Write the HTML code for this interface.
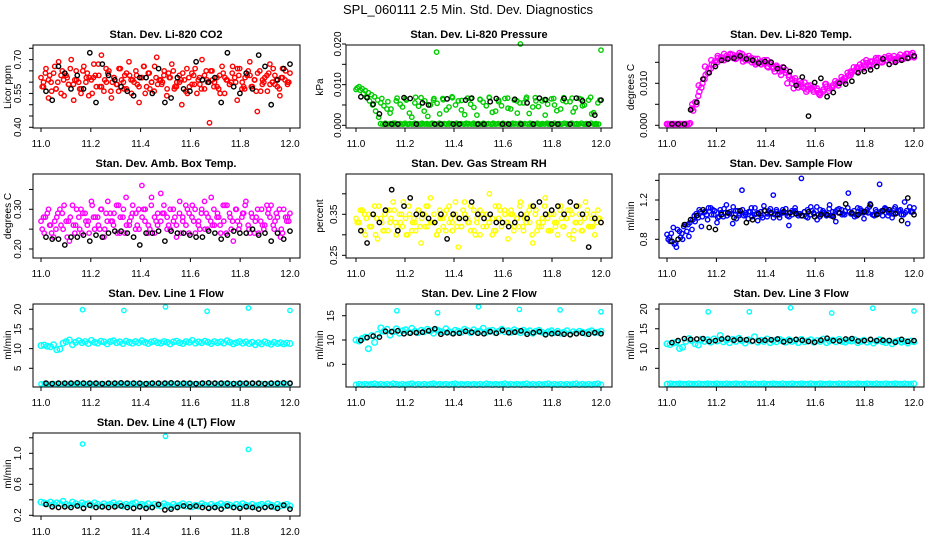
<!DOCTYPE html>
<html><head><meta charset="utf-8"><style>
html,body{margin:0;padding:0;background:#fff;}
svg{display:block;font-family:"Liberation Sans",sans-serif;}
.pt{font-weight:bold;font-size:11px;}
.yl{font-size:10px;}
</style></head><body>
<svg id="chart" width="936" height="540" viewBox="0 0 936 540">
<rect x="0" y="0" width="936" height="540" fill="#fff"/>
<text x="468" y="14" text-anchor="middle" font-size="13">SPL_060111  2.5 Min. Std. Dev. Diagnostics</text>
<text class="pt" x="166" y="38" text-anchor="middle">Stan. Dev. Li-820 CO2</text>
<text class="pt" x="479" y="38" text-anchor="middle">Stan. Dev. Li-820 Pressure</text>
<text class="pt" x="791" y="38" text-anchor="middle">Stan. Dev. Li-820 Temp.</text>
<text class="pt" x="166" y="167" text-anchor="middle">Stan. Dev. Amb. Box Temp.</text>
<text class="pt" x="479" y="167" text-anchor="middle">Stan. Dev. Gas Stream RH</text>
<text class="pt" x="791" y="167" text-anchor="middle">Stan. Dev. Sample Flow</text>
<text class="pt" x="166" y="297" text-anchor="middle">Stan. Dev. Line 1 Flow</text>
<text class="pt" x="479" y="297" text-anchor="middle">Stan. Dev. Line 2 Flow</text>
<text class="pt" x="791" y="297" text-anchor="middle">Stan. Dev. Line 3 Flow</text>
<text class="pt" x="166" y="426" text-anchor="middle">Stan. Dev. Line 4 (LT) Flow</text>
<text class="yl" transform="translate(11,87) rotate(-90)" text-anchor="middle">Licor ppm</text>
<text class="yl" transform="translate(323,87) rotate(-90)" text-anchor="middle">kPa</text>
<text class="yl" transform="translate(634,87) rotate(-90)" text-anchor="middle">degrees C</text>
<text class="yl" transform="translate(11,216) rotate(-90)" text-anchor="middle">degrees C</text>
<text class="yl" transform="translate(323,216) rotate(-90)" text-anchor="middle">percent</text>
<text class="yl" transform="translate(634,216) rotate(-90)" text-anchor="middle">ml/min</text>
<text class="yl" transform="translate(11,345) rotate(-90)" text-anchor="middle">ml/min</text>
<text class="yl" transform="translate(323,345) rotate(-90)" text-anchor="middle">ml/min</text>
<text class="yl" transform="translate(634,345) rotate(-90)" text-anchor="middle">ml/min</text>
<text class="yl" transform="translate(11,474) rotate(-90)" text-anchor="middle">ml/min</text>
</svg>
<script>
// ---- data ----
const xTicks = [11.0, 11.2, 11.4, 11.6, 11.8, 12.0];
const xTickLabels = ["11.0", "11.2", "11.4", "11.6", "11.8", "12.0"];
const outlierX = [11.167, 11.333, 11.5, 11.667, 11.833, 12.0];

const co2Ticks = [0.40,0.45,0.50,0.55,0.60,0.65,0.70,0.75];
const co2TickLabels = ["0.40","","","0.55","","","0.70",""];
const co2Red = [0.62,0.58,0.66,0.53,0.60,0.64,0.57,0.69,0.55,0.61,0.63,0.59,0.70,0.52,0.65,0.60,0.57,0.67,0.62,0.54,0.61,0.68,0.58,0.63,0.72,0.56,0.60,0.65,0.53,0.62,0.59,0.66,0.61,0.57,0.64,0.69,0.55,0.60,0.63,0.51,0.62,0.67,0.58,0.64,0.60,0.56,0.71,0.61,0.59,0.65,0.54,0.62,0.68,0.57,0.60,0.63,0.50,0.61,0.66,0.58,0.64,0.59,0.55,0.62,0.70,0.57,0.61,0.42,0.65,0.60,0.58,0.63,0.67,0.55,0.61,0.59,0.64,0.62,0.52,0.66,0.60,0.57,0.63,0.69,0.58,0.61,0.47,0.65,0.59,0.62,0.56,0.68,0.60,0.63,0.58,0.54,0.66,0.61,0.59,0.64];
const co2Red2 = [0.60,0.63,0.57,0.65,0.59,0.61,0.55,0.64,0.62,0.58,0.66,0.60,0.56,0.63,0.61,0.59,0.67,0.57,0.62,0.60,0.64,0.58,0.61,0.55,0.63,0.59,0.65,0.61,0.57,0.62,0.60,0.66,0.58,0.63,0.56,0.61,0.64,0.59,0.62,0.60];
const co2Red3 = [0.58,0.64,0.61,0.56,0.67,0.60,0.63,0.54,0.62,0.66,0.59,0.61,0.57,0.65,0.60,0.62,0.55,0.63,0.68,0.58,0.61,0.64,0.56,0.62,0.59,0.66,0.60,0.57,0.63,0.61,0.65,0.58,0.62,0.55,0.64,0.60,0.67,0.59,0.61,0.63,0.57,0.62,0.65,0.58,0.60,0.64,0.56,0.62,0.59,0.66,0.61,0.57,0.63,0.60,0.65,0.58,0.62,0.55,0.64,0.61,0.59,0.67,0.60,0.63,0.57,0.62,0.65,0.58,0.61,0.64,0.56,0.60,0.63,0.59,0.66,0.61,0.57,0.62,0.65,0.60];
const co2Black = [0.56,0.52,0.67,0.64,0.57,0.63,0.57,0.73,0.51,0.68,0.63,0.61,0.58,0.56,0.54,0.62,0.62,0.55,0.66,0.51,0.53,0.62,0.57,0.56,0.69,0.61,0.60,0.62,0.51,0.73,0.58,0.55,0.64,0.57,0.72,0.67,0.50,0.61,0.66,0.68];

const presTicks = [0,0.005,0.010,0.015,0.020];
const presTickLabels = ["0.000","","0.010","","0.020"];
const presGreen = [0.0088,0.0095,0.0090,0.0085,0.0080,0.0075,0.0070,0.0062,0.0055,0.0048,0.0040,0.0030,0.0005,0.0060,0.0003,0.0045,0.0065,0.0003,0.0020,0.0055,0.0003,0.0068,0.0035,0.0003,0.0050,0.0062,0.0180,0.0028,0.0066,0.0003,0.0045,0.0070,0.0003,0.0060,0.0038,0.0003,0.0067,0.0052,0.0003,0.0025,0.0063,0.0003,0.0048,0.0068,0.0003,0.0035,0.0058,0.0003,0.0066,0.0042,0.0003,0.0062,0.0030,0.0200,0.0055,0.0069,0.0003,0.0045,0.0060,0.0003,0.0060,0.0025,0.0003,0.0065,0.0050,0.0003,0.0040,0.0068,0.0003,0.0058,0.0033,0.0003,0.0066,0.0048,0.0003,0.0062,0.0028,0.0003,0.0055,0.0185];
const presGreen3 = [0.0092,0.0086,0.0078,0.0070,0.0060,0.0050,0.0035,0.0020,0.0066,0.0003,0.0058,0.0040,0.0003,0.0067,0.0052,0.0003,0.0062,0.0030,0.0003,0.0069,0.0047,0.0003,0.0060,0.0022,0.0003,0.0066,0.0054,0.0003,0.0063,0.0038,0.0003,0.0068,0.0050,0.0003,0.0061,0.0026,0.0003,0.0066,0.0044,0.0003,0.0064,0.0057,0.0003,0.0069,0.0032,0.0003,0.0062,0.0048,0.0003,0.0067,0.0040,0.0003,0.0060,0.0055,0.0003,0.0065,0.0029,0.0003,0.0068,0.0046,0.0003,0.0063,0.0052,0.0003,0.0066,0.0036,0.0003,0.0061,0.0058,0.0003,0.0067,0.0043,0.0003,0.0064,0.0050,0.0003,0.0069,0.0031,0.0003,0.0062];
const presGreenFloor = [0.0004,0.0003,0.0005,0.0003,0.0004,0.0003,0.0005,0.0003,0.0004,0.0003,0.0005,0.0003,0.0004,0.0003,0.0005,0.0004,0.0003,0.0005,0.0003,0.0004,0.0003,0.0005,0.0004,0.0003,0.0005,0.0003,0.0004,0.0003,0.0005,0.0004,0.0003,0.0005,0.0003,0.0004,0.0003,0.0005,0.0004,0.0003,0.0005,0.0003,0.0004,0.0003,0.0005,0.0003,0.0004,0.0003,0.0005,0.0003,0.0004,0.0003,0.0005,0.0003,0.0004,0.0003,0.0005,0.0004,0.0003,0.0005,0.0003,0.0004,0.0003,0.0005,0.0004,0.0003,0.0005,0.0003,0.0004,0.0003,0.0005,0.0004,0.0003,0.0005,0.0003,0.0004,0.0003,0.0005,0.0004,0.0003,0.0005,0.0003,0.0004,0.0003,0.0005,0.0003,0.0004,0.0003,0.0005,0.0003,0.0004,0.0003];
const presBlack = [0.0070,0.0068,0.0052,0.0028,0.0003,0.0003,0.0003,0.0068,0.0066,0.0003,0.0055,0.0050,0.0003,0.0003,0.0065,0.0003,0.0003,0.0062,0.0067,0.0003,0.0003,0.0058,0.0066,0.0003,0.0003,0.0064,0.0003,0.0055,0.0003,0.0067,0.0063,0.0003,0.0003,0.0066,0.0003,0.0067,0.0060,0.0003,0.0025,0.0062];

const tempTicks = [0,0.005,0.010,0.015];
const tempTickLabels = ["0.000","","0.010",""];
const tempMagenta = [0.0003,0.0003,0.0003,0.0003,0.0003,0.0003,0.0003,0.0003,0.0040,0.0055,0.0070,0.0090,0.0110,0.0125,0.0135,0.0145,0.0150,0.0155,0.0160,0.0165,0.0162,0.0168,0.0158,0.0166,0.0170,0.0163,0.0155,0.0160,0.0150,0.0158,0.0152,0.0148,0.0155,0.0145,0.0140,0.0142,0.0135,0.0130,0.0132,0.0120,0.0110,0.0105,0.0098,0.0092,0.0102,0.0095,0.0088,0.0092,0.0082,0.0078,0.0085,0.0092,0.0088,0.0095,0.0098,0.0102,0.0108,0.0112,0.0118,0.0125,0.0130,0.0135,0.0138,0.0142,0.0148,0.0152,0.0145,0.0155,0.0150,0.0158,0.0155,0.0160,0.0152,0.0158,0.0162,0.0158,0.0165,0.0160,0.0168,0.0165];
const tempMagenta2 = [0.0003,0.0003,0.0003,0.0003,0.0050,0.0095,0.0140,0.0155,0.0165,0.0155,0.0168,0.0160,0.0152,0.0158,0.0145,0.0150,0.0138,0.0128,0.0120,0.0100,0.0088,0.0105,0.0080,0.0085,0.0075,0.0098,0.0090,0.0102,0.0112,0.0128,0.0138,0.0150,0.0140,0.0160,0.0150,0.0165,0.0155,0.0160,0.0170,0.0162];
const tempMagenta3 = [0.0003,0.0003,0.0003,0.0003,0.0003,0.0003,0.0003,0.0005,0.0035,0.0050,0.0080,0.0100,0.0120,0.0135,0.0145,0.0152,0.0160,0.0162,0.0170,0.0158,0.0170,0.0160,0.0165,0.0172,0.0160,0.0155,0.0165,0.0150,0.0158,0.0148,0.0145,0.0155,0.0140,0.0150,0.0135,0.0138,0.0128,0.0138,0.0125,0.0115,0.0100,0.0112,0.0090,0.0100,0.0088,0.0085,0.0095,0.0080,0.0088,0.0072,0.0080,0.0098,0.0082,0.0090,0.0105,0.0095,0.0115,0.0105,0.0125,0.0120,0.0138,0.0128,0.0145,0.0135,0.0155,0.0145,0.0152,0.0148,0.0160,0.0150,0.0162,0.0155,0.0160,0.0165,0.0155,0.0168,0.0158,0.0170,0.0162,0.0172];
const tempBlack = [0.0003,0.0003,0.0003,0.0037,0.0055,0.0110,0.0125,0.0140,0.0155,0.0158,0.0160,0.0165,0.0158,0.0155,0.0148,0.0152,0.0150,0.0135,0.0138,0.0128,0.0095,0.0115,0.0022,0.0102,0.0112,0.0068,0.0078,0.0100,0.0098,0.0105,0.0125,0.0128,0.0132,0.0140,0.0158,0.0145,0.0150,0.0155,0.0160,0.0165];

const ambTicks = [0.20,0.25,0.30,0.35];
const ambTickLabels = ["0.20","","0.30",""];
const ambMagenta = [0.27,0.24,0.29,0.26,0.23,0.28,0.30,0.25,0.27,0.22,0.31,0.26,0.28,0.24,0.29,0.27,0.32,0.25,0.28,0.30,0.23,0.27,0.29,0.26,0.31,0.24,0.28,0.33,0.26,0.29,0.25,0.30,0.36,0.27,0.24,0.31,0.28,0.26,0.34,0.29,0.25,0.30,0.27,0.23,0.32,0.28,0.26,0.29,0.31,0.24,0.27,0.30,0.25,0.28,0.33,0.26,0.29,0.24,0.27,0.31,0.28,0.22,0.30,0.26,0.29,0.32,0.25,0.28,0.27,0.24,0.30,0.26,0.29,0.31,0.25,0.28,0.23,0.30,0.27,0.29];
const ambMagenta2 = [0.28,0.26,0.25,0.29,0.27,0.24,0.30,0.26,0.28,0.25,0.29,0.27,0.31,0.24,0.28,0.26,0.30,0.25,0.27,0.29,0.26,0.28,0.24,0.30,0.27,0.25,0.29,0.26,0.28,0.31,0.25,0.27,0.29,0.24,0.28,0.26,0.30,0.27,0.25,0.28];
const ambMagenta3 = [0.25,0.28,0.30,0.24,0.27,0.29,0.26,0.31,0.23,0.28,0.26,0.30,0.25,0.29,0.27,0.24,0.31,0.28,0.26,0.30,0.25,0.32,0.27,0.29,0.24,0.28,0.30,0.26,0.27,0.31,0.29,0.25,0.28,0.30,0.26,0.33,0.24,0.29,0.27,0.31,0.28,0.25,0.30,0.26,0.29,0.27,0.31,0.24,0.28,0.30,0.26,0.29,0.32,0.25,0.27,0.30,0.28,0.26,0.31,0.24,0.29,0.27,0.30,0.25,0.28,0.31,0.26,0.29,0.24,0.30,0.27,0.25,0.31,0.28,0.26,0.29,0.30,0.24,0.28,0.27];
const ambBlack = [0.23,0.225,0.225,0.21,0.23,0.23,0.235,0.22,0.235,0.23,0.24,0.245,0.245,0.24,0.23,0.21,0.24,0.24,0.245,0.22,0.245,0.24,0.24,0.235,0.23,0.23,0.245,0.24,0.225,0.235,0.245,0.24,0.24,0.25,0.235,0.24,0.22,0.24,0.225,0.245];

const rhTicks = [0.25,0.30,0.35,0.40];
const rhTickLabels = ["0.25","","0.35",""];
const rhYellow = [0.34,0.33,0.36,0.30,0.35,0.32,0.37,0.29,0.34,0.31,0.36,0.33,0.38,0.30,0.35,0.32,0.34,0.37,0.31,0.33,0.36,0.28,0.35,0.32,0.39,0.33,0.30,0.36,0.34,0.31,0.37,0.33,0.35,0.27,0.32,0.38,0.34,0.31,0.36,0.33,0.30,0.35,0.32,0.40,0.34,0.31,0.37,0.33,0.35,0.29,0.36,0.32,0.34,0.38,0.31,0.35,0.33,0.28,0.36,0.32,0.34,0.39,0.31,0.35,0.33,0.30,0.37,0.32,0.34,0.36,0.29,0.33,0.35,0.31,0.38,0.32,0.34,0.30,0.36,0.33];
const rhYellow2 = [0.33,0.35,0.32,0.34,0.31,0.36,0.33,0.35,0.30,0.34,0.32,0.37,0.33,0.31,0.35,0.34,0.32,0.36,0.33,0.30,0.35,0.34,0.31,0.36,0.33,0.35,0.32,0.34,0.37,0.31,0.33,0.35,0.32,0.34,0.36,0.31,0.33,0.35,0.32,0.34];
const rhYellow3 = [0.33,0.36,0.31,0.34,0.32,0.35,0.30,0.37,0.33,0.35,0.31,0.34,0.36,0.32,0.33,0.38,0.30,0.35,0.33,0.31,0.36,0.34,0.32,0.37,0.33,0.35,0.30,0.34,0.32,0.36,0.33,0.31,0.38,0.34,0.32,0.35,0.33,0.37,0.31,0.34,0.36,0.32,0.35,0.33,0.30,0.37,0.34,0.32,0.36,0.33,0.35,0.31,0.34,0.37,0.32,0.33,0.36,0.30,0.35,0.33,0.32,0.37,0.34,0.31,0.35,0.33,0.36,0.32,0.34,0.30,0.35,0.33,0.37,0.31,0.34,0.36,0.32,0.35,0.33,0.34];
const rhBlack = [0.31,0.28,0.35,0.33,0.36,0.41,0.31,0.37,0.39,0.35,0.35,0.34,0.33,0.35,0.29,0.35,0.34,0.34,0.38,0.35,0.34,0.35,0.33,0.33,0.32,0.33,0.35,0.34,0.37,0.38,0.35,0.36,0.37,0.35,0.38,0.37,0.35,0.27,0.34,0.33];

const sfTicks = [0.8,1.0,1.2,1.4];
const sfTickLabels = ["0.8","","1.2",""];
const sfBlue = [0.85,0.78,0.92,0.72,0.88,0.80,0.95,0.83,0.90,0.98,1.02,0.93,1.08,1.00,1.12,1.05,0.97,1.10,1.03,1.15,1.06,0.96,1.09,1.04,1.30,1.07,1.01,1.12,1.05,0.99,1.08,1.14,1.03,1.06,1.25,1.10,1.02,1.07,1.11,0.94,1.05,1.09,1.04,1.42,1.08,1.02,1.13,1.06,1.00,1.10,1.07,1.04,1.15,1.08,0.98,1.11,1.05,1.09,1.27,1.06,1.03,1.12,1.07,1.01,1.10,1.16,1.05,1.08,1.36,1.04,1.11,1.07,1.02,1.13,1.09,1.05,1.18,0.96,1.08,1.12];
const sfBlue2 = [0.82,0.76,0.86,0.95,1.04,1.08,1.05,1.10,1.03,1.07,1.06,1.09,1.04,1.08,1.06,1.02,1.09,1.05,1.07,1.04,1.08,1.06,1.03,1.09,1.05,1.07,1.04,1.10,1.06,1.08,1.05,1.09,1.07,1.04,1.08,1.10,1.06,1.09,1.07,1.08];
const sfBlue3 = [0.80,0.86,0.75,0.90,0.82,0.93,0.88,0.97,1.00,1.06,1.10,1.03,1.08,1.12,1.05,1.09,1.02,1.07,1.11,1.04,1.08,1.13,1.01,1.06,1.10,1.05,1.08,1.03,1.12,1.07,1.04,1.09,1.06,1.11,1.02,1.08,1.05,1.10,1.07,1.03,1.09,1.12,1.06,1.04,1.08,1.10,1.05,1.07,1.13,1.03,1.09,1.06,1.11,1.04,1.08,1.07,1.10,1.05,1.12,1.06,1.09,1.04,1.11,1.07,1.08,1.13,1.05,1.10,1.06,1.09,1.12,1.04,1.08,1.11,1.07,1.10,1.05,1.09,1.13,1.08];
const sfBlack = [0.78,0.80,0.95,1.00,1.04,1.10,0.92,0.90,1.05,1.07,1.02,1.09,0.97,1.00,1.06,1.09,1.07,1.05,1.08,1.07,1.06,1.04,1.08,1.03,1.05,1.05,1.03,1.07,1.16,1.07,1.05,1.08,1.15,1.05,1.09,1.10,1.06,0.99,1.22,1.05];

const flowTicks = [5,10,15,20];
const flowTickLabels = ["5","10","15","20"];
const l1Cyan = [10.8,10.9,10.6,10.5,11.0,9.7,9.9,11.4,11.8,12.2,11.0,11.6,12.0,11.5,11.8,11.3,12.1,11.6,11.4,11.9,11.7,11.2,11.8,12.0,11.5,11.7,11.3,11.9,11.6,11.4,11.8,11.5,12.0,11.6,11.3,11.7,11.9,11.5,11.4,11.8,11.6,11.2,11.7,11.9,11.5,11.3,11.8,11.6,12.1,11.4,11.7,11.5,11.9,11.6,11.3,11.8,11.5,11.7,11.4,12.0,11.6,11.2,11.5,11.8,11.4,11.7,11.3,11.6,11.0,11.5,11.2,11.7,11.4,11.1,11.6,11.3,11.5,11.2,11.4,11.3];
const l1CyanOut = [19.9,19.7,20.6,19.5,20.3,19.7];
const l1CyanLow = [1.0,1.1,1.0,1.0,1.1,1.0,1.0,1.1,1.0,1.0,1.1,1.0,1.0,1.1,1.0,1.0,1.1,1.0,1.0,1.1,1.0,1.0,1.1,1.0,1.0,1.1,1.0,1.0,1.1,1.0,1.0,1.1,1.0,1.0,1.1,1.0,1.0,1.1,1.0,1.0,1.1,1.0,1.0,1.1,1.0,1.0,1.1,1.0,1.0,1.1,1.0,1.0,1.1,1.0,1.0,1.1,1.0,1.0,1.1,1.0,1.0,1.1,1.0,1.0,1.1,1.0,1.0,1.1,1.0,1.0,1.1,1.0,1.0,1.1,1.0,1.0,1.1,1.0,1.0,1.1];
const l1Black = [1.2,1.1,1.2,1.2,1.2,1.3,1.2,1.2,1.2,1.1,1.2,1.2,1.3,1.2,1.2,1.2,1.1,1.2,1.2,1.2,1.3,1.2,1.2,1.2,1.1,1.2,1.3,1.2,1.2,1.2,1.1,1.2,1.2,1.2,1.2,1.1,1.2,1.2,1.3,1.2];

const l2Ticks = [5,10,15];
const l2TickLabels = ["5","10","15"];
const l2Cyan = [10.0,9.8,10.3,10.6,8.2,10.9,9.5,11.2,12.5,11.8,12.2,11.0,11.7,12.3,11.4,11.9,12.1,11.6,12.4,11.8,11.5,12.0,11.7,12.2,11.9,11.4,12.1,11.8,11.6,12.3,11.7,11.5,12.0,11.8,11.6,12.2,11.9,11.5,12.1,11.7,11.8,12.4,11.6,11.9,12.0,11.5,11.8,12.2,11.7,11.9,11.6,12.1,11.8,11.5,12.0,11.7,11.9,11.4,11.8,12.0,11.6,11.3,11.7,11.9,11.5,11.8,11.4,11.6,11.9,11.3,11.7,11.5,11.8,11.6,11.4,11.7,11.9,11.5,11.6,11.8];
const l2CyanOut = [16.0,15.6,16.85,16.3,16.2,15.8];
const l2CyanLow = [0.8,0.9,0.8,0.9,0.8,0.9,1.0,0.8,0.9,0.8,0.9,0.8,1.0,0.9,0.8,0.9,0.8,0.9,1.0,0.8,0.9,0.8,0.9,0.8,0.9,1.0,0.8,0.9,0.8,0.9,0.8,0.9,1.0,0.8,0.9,0.8,0.9,0.8,0.9,0.8,0.9,0.8,1.0,0.9,0.8,0.9,0.8,0.9,1.0,0.8,0.9,0.8,0.9,0.8,0.9,1.0,0.8,0.9,0.8,0.9,0.8,0.9,1.0,0.8,0.9,0.8,0.9,0.8,0.9,0.8,0.9,1.0,0.8,0.9,0.8,0.9,0.8,0.9,1.0,0.8];
const l2Black = [9.9,10.5,10.8,10.6,11.8,11.7,11.9,11.3,11.4,11.5,11.6,11.9,12.3,11.2,11.5,11.3,11.4,11.8,11.6,11.4,11.3,11.7,11.4,12.0,11.5,11.6,11.9,11.2,11.5,11.7,11.1,11.3,11.4,11.2,11.1,11.3,11.4,11.2,11.5,11.3];

const l3Cyan = [11.2,11.0,11.4,11.6,10.0,10.3,11.8,12.5,12.0,11.2,10.9,12.3,11.8,12.2,11.6,12.4,11.9,13.3,11.7,12.1,11.5,12.3,11.8,12.6,12.0,11.4,12.2,11.9,13.0,11.6,12.1,11.8,12.4,11.5,12.0,11.7,12.3,11.9,11.6,12.2,11.8,12.0,11.5,12.3,11.7,11.9,12.2,11.6,12.0,11.8,12.4,11.5,11.9,12.1,11.7,12.3,11.8,11.6,12.0,11.9,12.2,11.5,11.8,12.1,11.6,12.0,11.4,11.9,12.2,11.7,11.5,11.9,11.2,11.7,12.0,11.6,11.8,11.4,11.9,11.7];
const l3CyanOut = [19.3,19.3,20.3,19.0,20.2,19.5];
const l3CyanLow = [1.0,1.1,1.0,1.0,1.1,1.0,1.0,1.1,1.0,1.0,1.1,1.0,1.0,1.1,1.0,1.0,1.1,1.0,1.0,1.1,1.0,1.0,1.1,1.0,1.0,1.1,1.0,1.0,1.1,1.0,1.0,1.1,1.0,1.0,1.1,1.0,1.0,1.1,1.0,1.0,1.1,1.0,1.0,1.1,1.0,1.0,1.1,1.0,1.0,1.1,1.0,1.0,1.1,1.0,1.0,1.1,1.0,1.0,1.1,1.0,1.0,1.1,1.0,1.0,1.1,1.0,1.0,1.1,1.0,1.0,1.1,1.0,1.0,1.1,1.0,1.0,1.1,1.0,1.0,1.1];
const l3Black = [11.5,12.0,12.5,12.3,12.4,12.5,11.8,12.0,12.4,12.6,12.1,12.3,12.2,11.9,12.0,12.1,12.2,12.4,11.7,12.0,12.3,12.1,11.8,11.6,12.1,12.6,12.0,11.9,12.4,12.5,11.9,12.0,12.3,12.0,12.1,12.0,11.6,12.3,11.8,12.0];

const l4Ticks = [0.2,0.4,0.6,0.8,1.0,1.2];
const l4TickLabels = ["0.2","","0.6","","1.0",""];
const l4Cyan = [0.37,0.36,0.35,0.37,0.34,0.36,0.35,0.38,0.34,0.33,0.37,0.35,0.33,0.36,0.34,0.35,0.33,0.36,0.34,0.32,0.35,0.33,0.34,0.36,0.33,0.35,0.32,0.34,0.33,0.35,0.36,0.32,0.34,0.33,0.35,0.31,0.34,0.33,0.32,0.35,0.33,0.31,0.34,0.32,0.33,0.35,0.32,0.34,0.31,0.33,0.32,0.35,0.33,0.31,0.34,0.32,0.33,0.35,0.32,0.34,0.33,0.31,0.34,0.32,0.35,0.33,0.32,0.34,0.31,0.33,0.34,0.32,0.35,0.33,0.31,0.34,0.32,0.33,0.34,0.32];
const l4CyanOut = [1.12,1.22,1.05];
const l4OutX = [11.167, 11.5, 11.833];
const l4Black = [0.34,0.31,0.30,0.31,0.30,0.32,0.29,0.33,0.30,0.31,0.30,0.31,0.32,0.30,0.29,0.31,0.29,0.30,0.34,0.27,0.28,0.30,0.32,0.31,0.32,0.30,0.29,0.30,0.28,0.32,0.30,0.29,0.31,0.30,0.28,0.30,0.31,0.29,0.33,0.28];

// ---- drawing ----
const NS = "http://www.w3.org/2000/svg";
const svg = document.getElementById("chart");
function mk(tag, attrs, parent) {
  const e = document.createElementNS(NS, tag);
  for (const k in attrs) e.setAttribute(k, attrs[k]);
  (parent || svg).appendChild(e);
  return e;
}
function evenX(n, a, b) { const r = []; for (let i = 0; i < n; i++) r.push(a + (b - a) * i / (n - 1)); return r; }

function panel(name, box, xPix, yRef, yTicks, yLabels, labOff, series) {
  const g = mk("g", {});
  
  
  const [L, T, R, B] = box;
  const xS = v => xPix[0] + (v - 11) * (xPix[1] - xPix[0]);
  const yS = v => yRef[1] + (v - yRef[0]) * (yRef[3] - yRef[1]) / (yRef[2] - yRef[0]);
  series.forEach(s => {
    const xs = s.x || evenX(s.y.length, s.x0 || 11, s.x1 || 12);
    s.y.forEach((v, i) => {
      const c = mk("circle", {cx: xS(xs[i]).toFixed(1), cy: yS(v).toFixed(1), r: s.r || 2.2, fill: "none", stroke: s.color, "stroke-width": 1.4}, g);
      
      
    });
  });
  const bx = mk("rect", {x: L, y: T, width: R - L, height: B - T, fill: "none", stroke: "#000", "stroke-width": 1}, g);
  
  
  xTicks.forEach((t, i) => {
    const x = xS(t);
    mk("line", {x1: x, x2: x, y1: B, y2: B + 4, stroke: "#000"}, g);
    const tl = mk("text", {x: x, y: B + 19, "text-anchor": "middle", "font-size": 10}, g);
    tl.textContent = xTickLabels[i];
    
    
  });
  yTicks.forEach((t, i) => {
    const y = yS(t);
    if (y < T - 1 || y > B + 1) return;
    mk("line", {x1: L - 4, x2: L, y1: y, y2: y, stroke: "#000"}, g);
    if (yLabels[i]) {
      const tl = mk("text", {transform: `translate(${L - labOff},${y}) rotate(-90)`, "text-anchor": "middle", "font-size": 10}, g);
      tl.textContent = yLabels[i];
      
      
    }
  });
}
const C1 = [33, 300], C2 = [346, 612], C3 = [659, 924];
const X1 = [41, 290], X2 = [356, 601], X3 = [667, 914];
const R1 = [45, 128], R2 = [174, 258], R3 = [304, 387], R4 = [433, 516];
const bx = (c, r) => [c[0], r[0], c[1], r[1]];
const K = "#000";

panel("co2", bx(C1, R1), X1, [0.40, 127.3, 0.75, 48.3], co2Ticks, co2TickLabels, 12,
  [{y: co2Red, color: "#ff0000"}, {y: co2Red2, color: "#ff0000", x0: 11.01, x1: 11.99}, {y: co2Red3, color: "#ff0000", x0: 11.005, x1: 11.995}, {y: co2Black, color: K, x0: 11.02}]);
panel("pressure", bx(C2, R1), X2, [0, 125.3, 0.02, 44], presTicks, presTickLabels, 5,
  [{y: presGreen, color: "#00cc00"}, {y: presGreen3, color: "#00cc00", x0: 11.005, x1: 11.995}, {y: presGreenFloor, color: "#00cc00", x0: 11.1, x1: 11.99}, {y: presBlack, color: K, x0: 11.02}]);
panel("temp", bx(C3, R1), X3, [0, 125.3, 0.01, 83.3], tempTicks, tempTickLabels, 12,
  [{y: tempMagenta, color: "#ff00ff", r: 2.6}, {y: tempMagenta2, color: "#ff00ff", r: 2.6}, {y: tempMagenta3, color: "#ff00ff", r: 2.6, x0: 11.006, x1: 11.994}, {y: tempBlack, color: K, x0: 11.02}]);
panel("amb", bx(C1, R2), X1, [0.20, 249, 0.30, 209.3], ambTicks, ambTickLabels, 12,
  [{y: ambMagenta, color: "#ff00ff"}, {y: ambMagenta2, color: "#ff00ff", x0: 11.01, x1: 11.99}, {y: ambMagenta3, color: "#ff00ff", x0: 11.005, x1: 11.995}, {y: ambBlack, color: K, x0: 11.02}]);
panel("rh", bx(C2, R2), X2, [0.25, 255.3, 0.35, 214.3], rhTicks, rhTickLabels, 9,
  [{y: rhYellow, color: "#ffff00"}, {y: rhYellow2, color: "#ffff00", x0: 11.01, x1: 11.99}, {y: rhYellow3, color: "#ffff00", x0: 11.005, x1: 11.995}, {y: rhBlack, color: K, x0: 11.02}]);
panel("sample-flow", bx(C3, R2), X3, [0.8, 239.3, 1.2, 200], sfTicks, sfTickLabels, 12,
  [{y: sfBlue, color: "#0000ff"}, {y: sfBlue2, color: "#0000ff", x0: 11.01, x1: 11.99}, {y: sfBlue3, color: "#0000ff", x0: 11.005, x1: 11.995}, {y: sfBlack, color: K, x0: 11.02}]);
panel("line1", bx(C1, R3), X1, [5, 368.3, 20, 309.3], flowTicks, flowTickLabels, 12,
  [{y: l1Cyan, color: "#00ffff", r: 2.8}, {y: l1CyanOut, x: outlierX, color: "#00ffff"}, {y: l1CyanLow, color: "#00ffff"}, {y: l1Black, color: K, x0: 11.02, x1: 12.0}]);
panel("line2", bx(C2, R3), X2, [5, 364.3, 15, 315.7], l2Ticks, l2TickLabels, 12,
  [{y: l2Cyan, color: "#00ffff", r: 2.8}, {y: l2CyanOut, x: outlierX, color: "#00ffff"}, {y: l2CyanLow, color: "#00ffff", r: 2.6}, {y: l2Black, color: K, x0: 11.02}]);
panel("line3", bx(C3, R3), X3, [5, 368.3, 20, 309], flowTicks, flowTickLabels, 12,
  [{y: l3Cyan, color: "#00ffff", r: 2.8}, {y: l3CyanOut, x: outlierX, color: "#00ffff"}, {y: l3CyanLow, color: "#00ffff", r: 2.6}, {y: l3Black, color: K, x0: 11.02}]);
panel("line4", bx(C1, R4), X1, [0.2, 515.3, 1.0, 453.3], l4Ticks, l4TickLabels, 12,
  [{y: l4Cyan, color: "#00ffff", r: 2.8}, {y: l4CyanOut, x: l4OutX, color: "#00ffff"}, {y: l4Black, color: K, x0: 11.02}]);
</script>
</body></html>
